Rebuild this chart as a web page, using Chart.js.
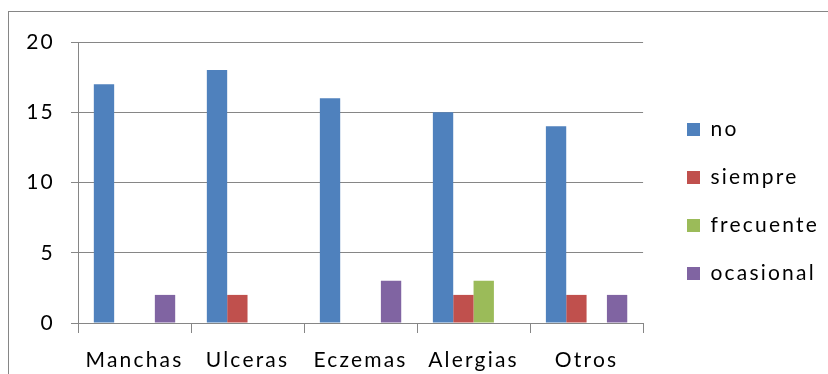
<!DOCTYPE html>
<html>
<head>
<meta charset="utf-8">
<script src="https://cdn.jsdelivr.net/npm/chart.js@4"></script>
<style>
  html, body { margin: 0; padding: 0; background: #fff; }
  canvas { display: block; }
</style>
</head>
<body>
<canvas id="chart" width="828" height="374"></canvas>
<script>
// Categorías y series del gráfico
const categories = ["Manchas", "Ulceras", "Eczemas", "Alergias", "Otros"];
const seriesNames = ["no", "siempre", "frecuente", "ocasional"];
const noValues = [17, 18, 16, 15, 14];
const siempreValues = [0, 2, 0, 2, 2];
const frecuenteValues = [0, 0, 0, 3, 0];
const ocasionalValues = [2, 0, 3, 0, 2];
const yTicks = [0, 5, 10, 15, 20];

const seriesColors = ["#4F81BD", "#C0504D", "#9BBB59", "#8064A2"];
const lineGray = "#868686";
const fontFamily = "Lato, 'Open Sans', sans-serif";
const fontSize = 21;
const spacing = "2.2px";

// marco exterior, espaciado de letras y posición de la leyenda
const framePlugin = {
    id: "frame",
    beforeUpdate(chart) {
        chart.ctx.letterSpacing = spacing;
    },
    afterLayout(chart) {
        const lg = chart.legend;
        if (!lg) return;
        const shift = 688 - 28 - lg.left;
        lg.left += shift;
        lg.right += shift;
        const h = lg.bottom - lg.top;
        lg.top = 92;
        lg.bottom = 92 + h;
    },
    beforeDraw(chart) {
        const ctx = chart.ctx;
        ctx.save();
        ctx.fillStyle = "#fff";
        ctx.fillRect(0, 0, chart.width, chart.height);
        ctx.strokeStyle = lineGray;
        ctx.lineWidth = 1;
        ctx.strokeRect(8.5, 11.5, chart.width + 10, chart.height + 10);
        ctx.restore();
        ctx.letterSpacing = spacing;
    }
};

const seriesData = [noValues, siempreValues, frecuenteValues, ocasionalValues];

new Chart(document.getElementById("chart"), {
    type: "bar",
    data: {
        labels: categories,
        datasets: seriesNames.map(function(name, i) {
            return {
                label: name,
                data: seriesData[i],
                backgroundColor: seriesColors[i],
                borderWidth: 0,
                categoryPercentage: 0.72,
                barPercentage: 1.0,
            };
        }),
    },
    options: {
        responsive: false,
        animation: false,
        layout: { padding: { top: 42, right: 16, bottom: 0, left: 0 } },
        plugins: {
            tooltip: { enabled: false },
            legend: {
                position: "right",
                align: "start",
                labels: {
                    boxWidth: 13,
                    boxHeight: 13,
                    padding: 27,
                    color: "#000",
                    font: { family: fontFamily, size: fontSize },
                },
            },
        },
        scales: {
            x: {
                grid: { display: true, drawOnChartArea: false, drawTicks: true, tickLength: 10, color: lineGray, offset: true },
                border: { color: lineGray },
                ticks: { color: "#000", font: { family: fontFamily, size: fontSize }, padding: 15, maxRotation: 0, autoSkip: false },
                afterFit: function(s) { s.height = 51; },
            },
            y: {
                min: 0,
                max: 20,
                afterBuildTicks: function(s) { s.ticks = yTicks.map(function(v) { return { value: v }; }); },
                grid: { color: lineGray, tickLength: 7 },
                border: { color: lineGray },
                ticks: { color: "#000", font: { family: fontFamily, size: fontSize }, padding: 16 },
                afterFit: function(s) { s.width = 78; },
            },
        },
    },
    plugins: [framePlugin],
});
</script>
</body>
</html>
